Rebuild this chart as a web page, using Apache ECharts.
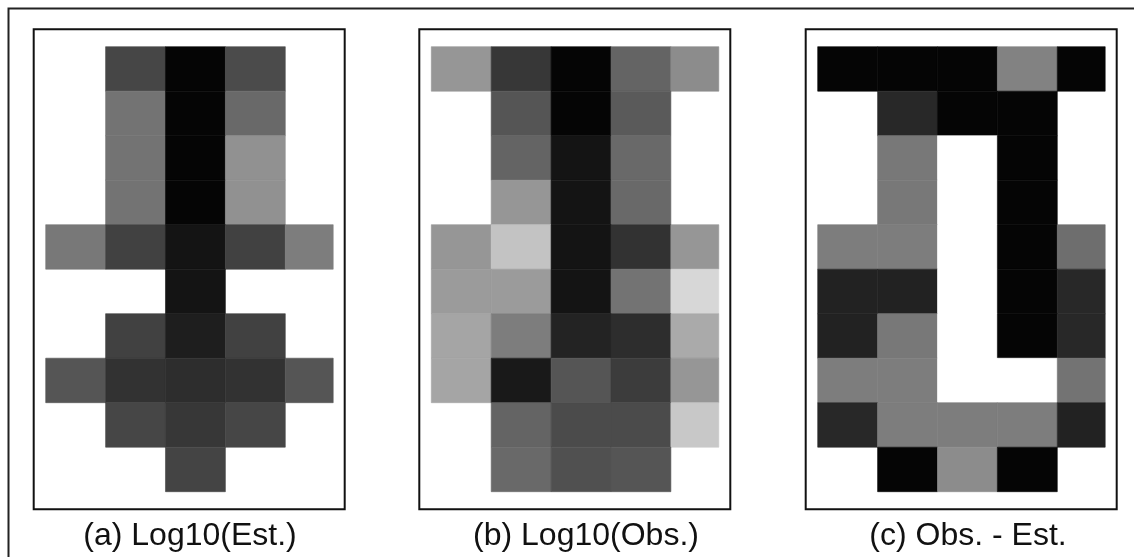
<!DOCTYPE html>
<html>
<head>
<meta charset="utf-8">
<script src="https://cdn.jsdelivr.net/npm/echarts@6/dist/echarts.min.js"></script>
<style>
html,body{margin:0;padding:0;background:#fff;}
#chart{width:1134px;height:557px;}
</style>
</head>
<body>
<div id="chart"></div>
<script>
// Panel titles
const panelTitles = ['(a) Log10(Est.)', '(b) Log10(Obs.)', '(c) Obs. - Est.'];

// Column / row indices of the 5 x 10 grid (top row = 0)
const columns = [0, 1, 2, 3, 4];
const rows = [0, 1, 2, 3, 4, 5, 6, 7, 8, 9];

// (a) Log10 of estimated values (null = no cell)
const estRows = [
  [null, 2.18, 2.94, 2.12, null],
  [null, 1.65, 2.94, 1.76, null],
  [null, 1.65, 2.94, 1.29, null],
  [null, 1.65, 2.94, 1.29, null],
  [1.59, 2.24, 2.76, 2.24, 1.53],
  [null, null, 2.76, null, null],
  [null, 2.24, 2.65, 2.24, null],
  [2.00, 2.41, 2.47, 2.41, 2.00],
  [null, 2.18, 2.35, 2.18, null],
  [null, null, 2.20, null, null]
];

// (b) Log10 of observed values
const obsRows = [
  [1.24, 2.35, 2.94, 1.82, 1.35],
  [null, 2.00, 2.94, 1.94, null],
  [null, 1.82, 2.76, 1.76, null],
  [null, 1.24, 2.76, 1.76, null],
  [1.24, 0.71, 2.76, 2.41, 1.24],
  [1.18, 1.18, 2.76, 1.65, 0.47],
  [1.06, 1.53, 2.59, 2.47, 1.00],
  [1.06, 2.71, 2.00, 2.29, 1.24],
  [null, 1.82, 2.12, 2.12, 0.65],
  [null, 1.76, 2.06, 2.00, null]
];

// (c) Observed minus estimated
const diffRows = [
  [-0.96, -0.96, -0.96, 0.02, -0.96],
  [null, -0.69, -0.96, -0.96, null],
  [null, -0.06, 1.00, -0.96, null],
  [null, -0.06, 1.00, -0.96, null],
  [-0.02, -0.02, 1.00, -0.96, -0.14],
  [-0.73, -0.73, 1.00, -0.96, -0.69],
  [-0.73, -0.06, 1.00, -0.96, -0.69],
  [-0.02, -0.02, 1.00, 1.00, -0.10],
  [-0.69, -0.02, -0.02, -0.02, -0.73],
  [null, -0.96, 0.10, -0.96, null]
];

function toCells(matrix) {
  const out = [];
  rows.forEach(function (r) {
    columns.forEach(function (c) {
      const v = matrix[r][c];
      if (v !== null && v !== undefined) out.push([c, r, v]);
    });
  });
  return out;
}

const panels = [estRows, obsRows, diffRows];
const frameX = [33.7, 419.3, 805.7];
const titleX = [190, 586, 968];
const cellInset = 12;
const cellAreaW = 287.5;

function renderCell(params, api) {
  const x = api.value(0), y = api.value(1);
  const p0 = api.coord([x - 0.5, y - 0.5]);
  const p1 = api.coord([x + 0.5, y + 0.5]);
  const cs = params.coordSys;
  const rect = echarts.graphic.clipRectByRect({
    x: Math.min(p0[0], p1[0]),
    y: Math.min(p0[1], p1[1]),
    width: Math.abs(p1[0] - p0[0]),
    height: Math.abs(p1[1] - p0[1])
  }, { x: cs.x, y: cs.y, width: cs.width, height: cs.height });
  if (!rect) return null;
  const col = api.visual('color');
  return {
    type: 'rect',
    shape: rect,
    style: { fill: col, stroke: col, lineWidth: 0.6 }
  };
}

const grids = [], xAxes = [], yAxes = [], series = [], graphics = [];
panels.forEach(function (m, i) {
  grids.push({ left: frameX[i] + cellInset, top: 46.7, width: cellAreaW, height: 445 });
  xAxes.push({ type: 'value', gridIndex: i, min: -0.5, max: 4.3, show: false });
  yAxes.push({ type: 'value', gridIndex: i, min: -0.5, max: 9.5, inverse: true, show: false });
  series.push({
    type: 'custom',
    xAxisIndex: i,
    yAxisIndex: i,
    renderItem: renderCell,
    encode: { x: 0, y: 1 },
    data: toCells(m),
    silent: true
  });
  graphics.push({
    type: 'rect',
    shape: { x: frameX[i], y: 29.3, width: 311, height: 480 },
    style: { fill: 'none', stroke: '#111', lineWidth: 2 },
    z: 10
  });
  graphics.push({
    type: 'text',
    x: titleX[i],
    y: 536,
    style: {
      text: panelTitles[i],
      font: '32px "Liberation Sans", Arial, sans-serif',
      fill: '#111',
      align: 'center',
      verticalAlign: 'middle'
    },
    z: 10
  });
});
graphics.push({
  type: 'rect',
  shape: { x: 8.5, y: 8.5, width: 1300, height: 700 },
  style: { fill: 'none', stroke: '#222', lineWidth: 2 },
  z: 10
});

const chart = echarts.init(document.getElementById('chart'), null, { renderer: 'canvas' });
chart.setOption({
  animation: false,
  backgroundColor: '#ffffff',
  grid: grids,
  xAxis: xAxes,
  yAxis: yAxes,
  visualMap: [
    { type: 'continuous', show: false, seriesIndex: 0, dimension: 2, min: 0, max: 3, inRange: { color: ['#ffffff', '#000000'] } },
    { type: 'continuous', show: false, seriesIndex: 1, dimension: 2, min: 0, max: 3, inRange: { color: ['#ffffff', '#000000'] } },
    { type: 'continuous', show: false, seriesIndex: 2, dimension: 2, min: -1, max: 1, inRange: { color: ['#000000', '#ffffff'] } }
  ],
  series: series,
  graphic: graphics
});
</script>
</body>
</html>
